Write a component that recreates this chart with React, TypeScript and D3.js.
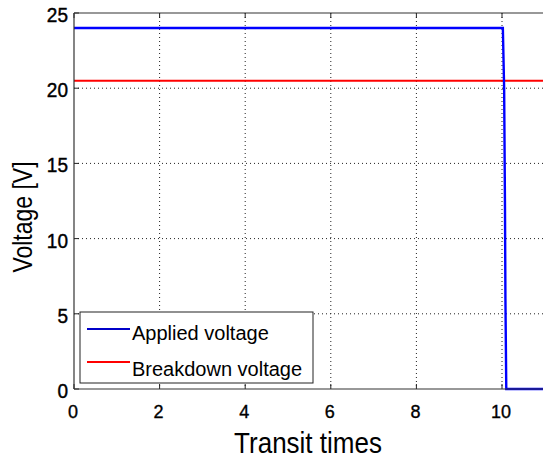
import React from "react";
import * as d3 from "d3";

const xTicks = [0, 2, 4, 6, 8, 10];
const yTicks = [0, 5, 10, 15, 20, 25];
const appliedT = [0, 10.02, 10.05, 10.07, 10.08, 10.1, 11.5];
const appliedV = [24, 24, 20, 12, 6, 0, 0];
const breakdownT = [0, 11.5];
const breakdownV = [20.5, 20.5];
const seriesNames = ["Applied voltage", "Breakdown voltage"];
const seriesColors = ["#0000ff", "#ff0000"];
const xLabel = "Transit times";
const yLabel = "Voltage [V]";

const W = 543;
const H = 459;
const L = 74, T = 13, B = 389;
const R = 74 + 11 * 42.8;

export default function App() {
  const x = d3.scaleLinear().domain([0, 11]).range([L, R]);
  const y = d3.scaleLinear().domain([0, 25]).range([B, T]);
  const line = d3.line<[number, number]>().x((d) => x(d[0])).y((d) => y(d[1]));
  const applied = appliedT.map((t, i) => [t, appliedV[i]] as [number, number]);
  const breakdown = breakdownT.map((t, i) => [t, breakdownV[i]] as [number, number]);
  const font = "'Liberation Sans', Arial, Helvetica, sans-serif";

  return (
    <svg width={W} height={H} style={{ position: "absolute", left: 0, top: 0, background: "#fff" }} fontFamily={font}>
      <defs>
        <clipPath id="plot">
          <rect x={L} y={T - 2} width={R - L + 2} height={B - T + 4} />
        </clipPath>
      </defs>
      <rect x={0} y={0} width={W} height={H} fill="#fff" />
      {/* grid */}
      {xTicks.filter((t) => t > 0).map((t) => (
        <line key={"gx" + t} x1={x(t)} x2={x(t)} y1={T} y2={B} stroke="#222" strokeWidth={1} strokeDasharray="1,3" />
      ))}
      {yTicks.filter((t) => t > 0 && t < 25).map((t) => (
        <line key={"gy" + t} x1={L} x2={R} y1={y(t)} y2={y(t)} stroke="#222" strokeWidth={1} strokeDasharray="1,3" />
      ))}
      {/* ticks */}
      {xTicks.map((t) => (
        <g key={"tx" + t}>
          <line x1={x(t)} x2={x(t)} y1={B} y2={B - 5} stroke="#222" />
          <line x1={x(t)} x2={x(t)} y1={T} y2={T + 5} stroke="#222" />
        </g>
      ))}
      {yTicks.map((t) => (
        <line key={"ty" + t} x1={L} x2={L + 5} y1={y(t)} y2={y(t)} stroke="#222" />
      ))}
      {/* lines */}
      <g clipPath="url(#plot)">
        <path d={line(breakdown) || ""} fill="none" stroke={seriesColors[1]} strokeWidth={2} />
        <path d={line(applied) || ""} fill="none" stroke={seriesColors[0]} strokeWidth={2.4} />
      </g>
      {/* frame */}
      <line x1={L} x2={L} y1={T} y2={B} stroke="#333" strokeWidth={1.2} />
      <line x1={L} x2={W} y1={B} y2={B} stroke="#333" strokeWidth={1.2} />
      <line x1={L} x2={W} y1={T} y2={T} stroke="#333" strokeWidth={1.2} />
      {/* tick labels */}
      {xTicks.map((t) => (
        <text key={"lx" + t} x={x(t) - 1} y={418} textAnchor="middle" fontSize={18} fill="#000" stroke="#000" strokeWidth={0.35}>
          {t}
        </text>
      ))}
      {yTicks.map((t) => (
        <text key={"ly" + t} transform={`translate(68,${y(t) + 9}) scale(1,1.08)`} textAnchor="end" fontSize={19} fill="#000" stroke="#000" strokeWidth={0.4}>
          {t}
        </text>
      ))}
      {/* axis labels */}
      <text transform={`translate(308,453) scale(1,1.13)`} textAnchor="middle" fontSize={26} fill="#000">
        {xLabel}
      </text>
      <text transform={`translate(32,217) rotate(-90) scale(1,1.2)`} textAnchor="middle" fontSize={23} fill="#000">
        {yLabel}
      </text>
      {/* legend */}
      <rect x={80} y={312} width={233} height={71} fill="#fff" stroke="#222" strokeWidth={1} />
      {seriesNames.map((n, i) => (
        <g key={n}>
          <line x1={87} x2={130} y1={329 + i * 33} y2={329 + i * 33} stroke={i === 0 ? "#0000c8" : seriesColors[1]} strokeWidth={2} />
          <text x={132} y={340 + i * 36} fontSize={20} fill="#000">
            {n}
          </text>
        </g>
      ))}
    </svg>
  );
}
